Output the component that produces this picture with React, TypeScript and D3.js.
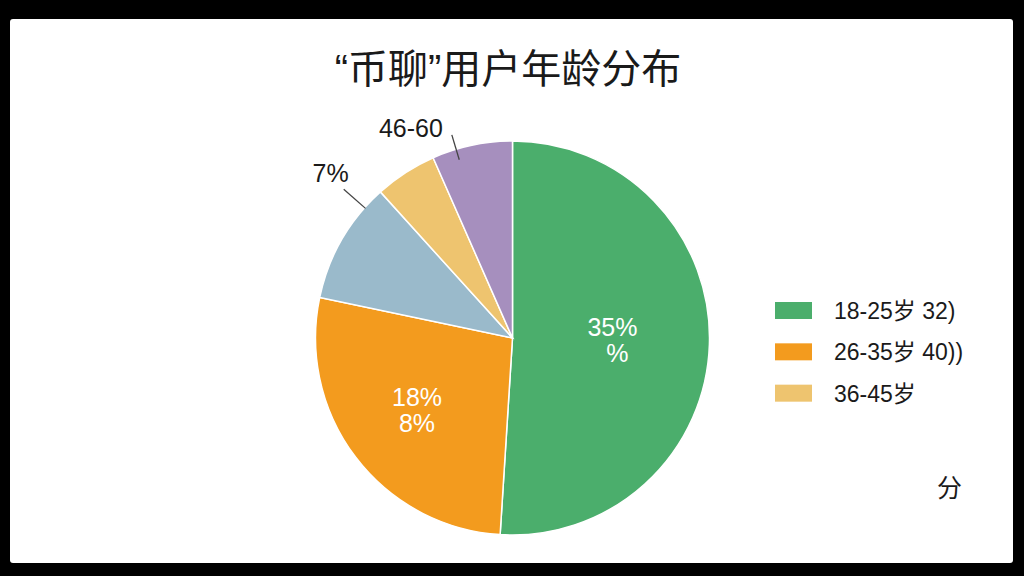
import React from "react";
import * as d3 from "d3";

const categories = ["18-25岁", "26-35岁", "其他", "36-45岁", "46-60岁"];
const values = [51, 27.3, 10, 5.1, 6.6];
const colors = ["#4BAE6C", "#F39B1E", "#9ABACB", "#EEC46F", "#A68FBE"];
const insideLabels = [["35%", "%"], ["18%", "8%"], null, null, null];
const insideRadius = [100, 120, 0, 0, 0];
const outerLabels = [null, null, "7%", null, "46-60"];
const outerFrac = [0, 0, 0.82, 0, 0.3];
const outerLine = [null, null, [196, 225], null, [186, 212]];
const outerOffset = [null, null, [5, -7], null, [-9, 2]];
const legendLabels = ["18-25岁 32)", "26-35岁 40))", "36-45岁"];
const legendColorIdx = [0, 1, 3];
const title = "“币聊”用户年龄分布";

const W = 1024;
const H = 576;
const FONT = "'Liberation Sans', 'Noto Sans CJK SC', Arial, sans-serif";

export default function App() {
  const cx = 512.5;
  const cy = 338;
  const r = 197;
  const pie = d3.pie<number>().sort(null).startAngle(0).endAngle(2 * Math.PI);
  const arcs = pie(values);
  const arc = d3.arc<d3.PieArcDatum<number>>().innerRadius(0).outerRadius(r);
  const polar = (a: number, rad: number) => [Math.sin(a) * rad, -Math.cos(a) * rad];

  const legendY = d3.scaleBand<number>().domain(legendLabels.map((_, i) => i)).range([302, 426]);

  return (
    <svg
      width={W}
      height={H}
      style={{ position: "fixed", left: 0, top: 0, background: "#000", display: "block" }}
    >
      <rect x={10} y={19} width={1003} height={544} rx={3} fill="#fff" />
      <text
        x={508}
        y={83}
        textAnchor="middle"
        fontFamily={FONT}
        fontSize={40}
        fontWeight={400}
        fill="#1a1a1a"
      >
        {title}
      </text>
      <g transform={`translate(${cx},${cy})`}>
        {arcs.map((a, i) => (
          <path key={categories[i]} d={arc(a) || ""} fill={colors[i]} stroke="#fff" strokeWidth={1.5} />
        ))}
        {arcs.map((a, i) => {
          const lab = insideLabels[i];
          if (!lab) return null;
          const mid = (a.startAngle + a.endAngle) / 2;
          const [x, y] = polar(mid, insideRadius[i]);
          return (
            <text key={"in" + i} textAnchor="middle" fontFamily={FONT} fontSize={25} fill="#fff">
              <tspan x={x} y={y - 5}>{lab[0]}</tspan>
              <tspan x={x + (i === 0 ? 5 : 0)} y={y + 21}>{lab[1]}</tspan>
            </text>
          );
        })}
        {arcs.map((a, i) => {
          const lab = outerLabels[i];
          const ln = outerLine[i];
          const off = outerOffset[i];
          if (!lab || !ln || !off) return null;
          const ang = a.startAngle + (a.endAngle - a.startAngle) * outerFrac[i];
          const [x1, y1] = polar(ang, ln[0]);
          const [x2, y2] = polar(ang, ln[1]);
          return (
            <g key={"out" + i}>
              <line x1={x1} y1={y1} x2={x2} y2={y2} stroke="#444" strokeWidth={1.3} />
              <text
                x={x2 + off[0]}
                y={y2 + off[1]}
                textAnchor="end"
                fontFamily={FONT}
                fontSize={25}
                fill="#1a1a1a"
              >
                {lab}
              </text>
            </g>
          );
        })}
      </g>
      {legendLabels.map((t, i) => {
        const y = legendY(i) || 0;
        return (
          <g key={t}>
            <rect x={775} y={y} width={37} height={17} fill={colors[legendColorIdx[i]]} />
            <text x={834} y={y + 17} fontFamily={FONT} fontSize={23} fill="#1a1a1a" style={{ whiteSpace: "pre" }}>
              {t}
            </text>
          </g>
        );
      })}
      <text x={937} y={497} fontFamily={FONT} fontSize={25} fill="#1a1a1a">
        分
      </text>
    </svg>
  );
}
